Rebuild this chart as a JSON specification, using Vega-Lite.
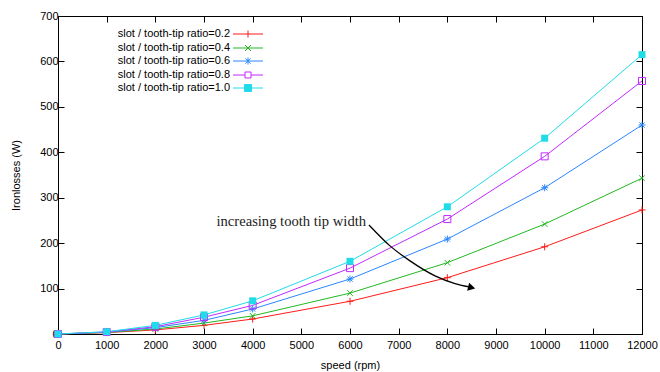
{
  "$schema": "https://vega.github.io/schema/vega-lite/v6.json",
  "width": 584,
  "height": 318,
  "autosize": "none",
  "padding": {"left": 58, "top": 16, "right": 18, "bottom": 38},
  "background": "white",
  "config": {
    "font": "Liberation Sans",
    "view": {"stroke": "black", "strokeWidth": 1},
    "axis": {
      "grid": false,
      "domainColor": "black",
      "tickColor": "black",
      "tickSize": -6,
      "labelFontSize": 11,
      "labelColor": "black",
      "labelFont": "Liberation Sans",
      "labelOverlap": false,
      "labelFlush": false,
      "titleFont": "Liberation Sans",
      "titleFontSize": 11,
      "titleFontWeight": "normal",
      "titleColor": "black"
    }
  },
  "datasets": {
    "losses": [
      {"speed": 0, "loss": 0, "ratio": "0.2"},
      {"speed": 1000, "loss": 3, "ratio": "0.2"},
      {"speed": 2000, "loss": 9, "ratio": "0.2"},
      {"speed": 3000, "loss": 19, "ratio": "0.2"},
      {"speed": 4000, "loss": 33, "ratio": "0.2"},
      {"speed": 6000, "loss": 72, "ratio": "0.2"},
      {"speed": 8000, "loss": 124, "ratio": "0.2"},
      {"speed": 10000, "loss": 192, "ratio": "0.2"},
      {"speed": 12000, "loss": 273, "ratio": "0.2"},
      {"speed": 0, "loss": 0, "ratio": "0.4"},
      {"speed": 1000, "loss": 3.5, "ratio": "0.4"},
      {"speed": 2000, "loss": 11, "ratio": "0.4"},
      {"speed": 3000, "loss": 24, "ratio": "0.4"},
      {"speed": 4000, "loss": 40, "ratio": "0.4"},
      {"speed": 6000, "loss": 90, "ratio": "0.4"},
      {"speed": 8000, "loss": 157, "ratio": "0.4"},
      {"speed": 10000, "loss": 242, "ratio": "0.4"},
      {"speed": 12000, "loss": 343, "ratio": "0.4"},
      {"speed": 0, "loss": 0, "ratio": "0.6"},
      {"speed": 1000, "loss": 4, "ratio": "0.6"},
      {"speed": 2000, "loss": 14, "ratio": "0.6"},
      {"speed": 3000, "loss": 30, "ratio": "0.6"},
      {"speed": 4000, "loss": 55, "ratio": "0.6"},
      {"speed": 6000, "loss": 121, "ratio": "0.6"},
      {"speed": 8000, "loss": 209, "ratio": "0.6"},
      {"speed": 10000, "loss": 322, "ratio": "0.6"},
      {"speed": 12000, "loss": 460, "ratio": "0.6"},
      {"speed": 0, "loss": 0, "ratio": "0.8"},
      {"speed": 1000, "loss": 4.5, "ratio": "0.8"},
      {"speed": 2000, "loss": 16, "ratio": "0.8"},
      {"speed": 3000, "loss": 37, "ratio": "0.8"},
      {"speed": 4000, "loss": 63, "ratio": "0.8"},
      {"speed": 6000, "loss": 145, "ratio": "0.8"},
      {"speed": 8000, "loss": 253, "ratio": "0.8"},
      {"speed": 10000, "loss": 391, "ratio": "0.8"},
      {"speed": 12000, "loss": 557, "ratio": "0.8"},
      {"speed": 0, "loss": 0, "ratio": "1.0"},
      {"speed": 1000, "loss": 5, "ratio": "1.0"},
      {"speed": 2000, "loss": 19, "ratio": "1.0"},
      {"speed": 3000, "loss": 42, "ratio": "1.0"},
      {"speed": 4000, "loss": 73, "ratio": "1.0"},
      {"speed": 6000, "loss": 160, "ratio": "1.0"},
      {"speed": 8000, "loss": 280, "ratio": "1.0"},
      {"speed": 10000, "loss": 431, "ratio": "1.0"},
      {"speed": 12000, "loss": 615, "ratio": "1.0"}
    ],
    "arrow": [
      {"speed": 6390, "loss": 240},
      {"speed": 6822, "loss": 194},
      {"speed": 7233, "loss": 161},
      {"speed": 7747, "loss": 128},
      {"speed": 8158, "loss": 111},
      {"speed": 8480, "loss": 103}
    ],
    "arrowhead": [
      {"speed": 8500, "loss": 102}
    ],
    "note": [
      {"speed": 6330, "loss": 246, "text": "increasing tooth tip width"}
    ]
  },
  "resolve": {"axis": {"x": "independent", "y": "independent"}},
  "layer": [
    {
      "data": {"name": "losses"},
      "mark": {"type": "line", "strokeWidth": 1},
      "encoding": {
        "x": {
          "field": "speed", "type": "quantitative",
          "scale": {"domain": [0, 12000], "nice": false},
          "axis": {"title": "speed (rpm)", "format": "d", "values": [0,1000,2000,3000,4000,5000,6000,7000,8000,9000,10000,11000,12000], "labelPadding": 11, "titlePadding": 9}
        },
        "y": {
          "field": "loss", "type": "quantitative",
          "scale": {"domain": [0, 700], "nice": false},
          "axis": {"title": "Ironlosses (W)", "values": [0,100,200,300,400,500,600,700], "labelPadding": 6, "titlePadding": 18}
        },
        "color": {
          "field": "ratio", "type": "nominal",
          "scale": {"domain": ["0.2","0.4","0.6","0.8","1.0"], "range": ["#ff1a1a","#22b822","#2a86ff","#c228ff","#20dce8"]},
          "legend": {
            "title": null,
            "orient": "none",
            "legendX": 182,
            "legendY": 10,
            "symbolSize": 100,
            "rowPadding": 0,
            "labelAlign": "right",
            "labelBaseline": "middle",
            "labelOffset": -26,
            "labelFontSize": 11,
            "labelColor": "black",
            "labelFont": "Liberation Sans",
            "labelExpr": "'slot / tooth-tip ratio=' + datum.label",
            "encode": {
              "symbols": {
                "update": {
                  "shape": {"signal": "datum.value == '0.2' ? 'M-2,0L2,0M0,-0.47L0,0.47' : datum.value == '0.4' ? 'M-2,0L2,0M-0.4,-0.4L0.4,0.4M-0.4,0.4L0.4,-0.4' : datum.value == '0.6' ? 'M-2,0L2,0M0,-0.47L0,0.47M-0.35,-0.35L0.35,0.35M-0.35,0.35L0.35,-0.35' : datum.value == '0.8' ? 'M-2,0L-0.4,0M0.4,0L2,0M-0.4,-0.4L0.4,-0.4L0.4,0.4L-0.4,0.4Z' : 'M-2,0L2,0M-0.47,-0.47L0.47,-0.47L0.47,0.47L-0.47,0.47Z'"},
                  "stroke": {"signal": "scale('color', datum.value)"},
                  "fill": {"signal": "datum.value == '1.0' ? '#20dce8' : 'transparent'"},
                  "strokeWidth": {"value": 1},
                  "size": {"value": 225},
                  "opacity": {"value": 1}
                }
              }
            }
          }
        }
      }
    },
    {
      "data": {"name": "losses"},
      "transform": [{"filter": "datum.ratio == '0.2'"}],
      "mark": {"type": "point", "shape": "M-1,0L1,0M0,-1L0,1", "filled": false, "strokeWidth": 1, "size": 49, "opacity": 1, "color": "#ff1a1a"},
      "encoding": {
        "x": {"field": "speed", "type": "quantitative", "axis": {"orient": "top", "labels": false, "title": null, "values": [0,1000,2000,3000,4000,5000,6000,7000,8000,9000,10000,11000,12000]}},
        "y": {"field": "loss", "type": "quantitative", "axis": {"orient": "right", "labels": false, "title": null, "values": [0,100,200,300,400,500,600,700]}}
      }
    },
    {
      "data": {"name": "losses"},
      "transform": [{"filter": "datum.ratio == '0.4'"}],
      "mark": {"type": "point", "shape": "M-0.8,-0.8L0.8,0.8M-0.8,0.8L0.8,-0.8", "filled": false, "strokeWidth": 1, "size": 49, "opacity": 1, "color": "#22b822"},
      "encoding": {
        "x": {"field": "speed", "type": "quantitative", "axis": null},
        "y": {"field": "loss", "type": "quantitative", "axis": null}
      }
    },
    {
      "data": {"name": "losses"},
      "transform": [{"filter": "datum.ratio == '0.6'"}],
      "mark": {"type": "point", "shape": "M-1,0L1,0M0,-1L0,1M-0.75,-0.75L0.75,0.75M-0.75,0.75L0.75,-0.75", "filled": false, "strokeWidth": 1, "size": 49, "opacity": 1, "color": "#2a86ff"},
      "encoding": {
        "x": {"field": "speed", "type": "quantitative", "axis": null},
        "y": {"field": "loss", "type": "quantitative", "axis": null}
      }
    },
    {
      "data": {"name": "losses"},
      "transform": [{"filter": "datum.ratio == '0.8'"}],
      "mark": {"type": "point", "shape": "square", "filled": false, "strokeWidth": 1, "size": 49, "opacity": 1, "color": "#c228ff"},
      "encoding": {
        "x": {"field": "speed", "type": "quantitative", "axis": null},
        "y": {"field": "loss", "type": "quantitative", "axis": null}
      }
    },
    {
      "data": {"name": "losses"},
      "transform": [{"filter": "datum.ratio == '1.0'"}],
      "mark": {"type": "square", "filled": true, "size": 49, "color": "#20dce8", "opacity": 1},
      "encoding": {
        "x": {"field": "speed", "type": "quantitative", "axis": null},
        "y": {"field": "loss", "type": "quantitative", "axis": null}
      }
    },
    {
      "data": {"name": "arrow"},
      "mark": {"type": "line", "color": "black", "strokeWidth": 1.3, "interpolate": "monotone"},
      "encoding": {
        "x": {"field": "speed", "type": "quantitative", "axis": null},
        "y": {"field": "loss", "type": "quantitative", "axis": null}
      }
    },
    {
      "data": {"name": "arrowhead"},
      "mark": {"type": "point", "shape": "triangle-right", "filled": true, "color": "black", "size": 70, "angle": 14, "opacity": 1},
      "encoding": {
        "x": {"field": "speed", "type": "quantitative", "axis": null},
        "y": {"field": "loss", "type": "quantitative", "axis": null}
      }
    },
    {
      "data": {"name": "note"},
      "mark": {"type": "text", "align": "right", "baseline": "middle", "font": "Liberation Serif", "fontSize": 14.6, "color": "#222"},
      "encoding": {
        "x": {"field": "speed", "type": "quantitative", "axis": null},
        "y": {"field": "loss", "type": "quantitative", "axis": null},
        "text": {"field": "text"}
      }
    }
  ]
}
